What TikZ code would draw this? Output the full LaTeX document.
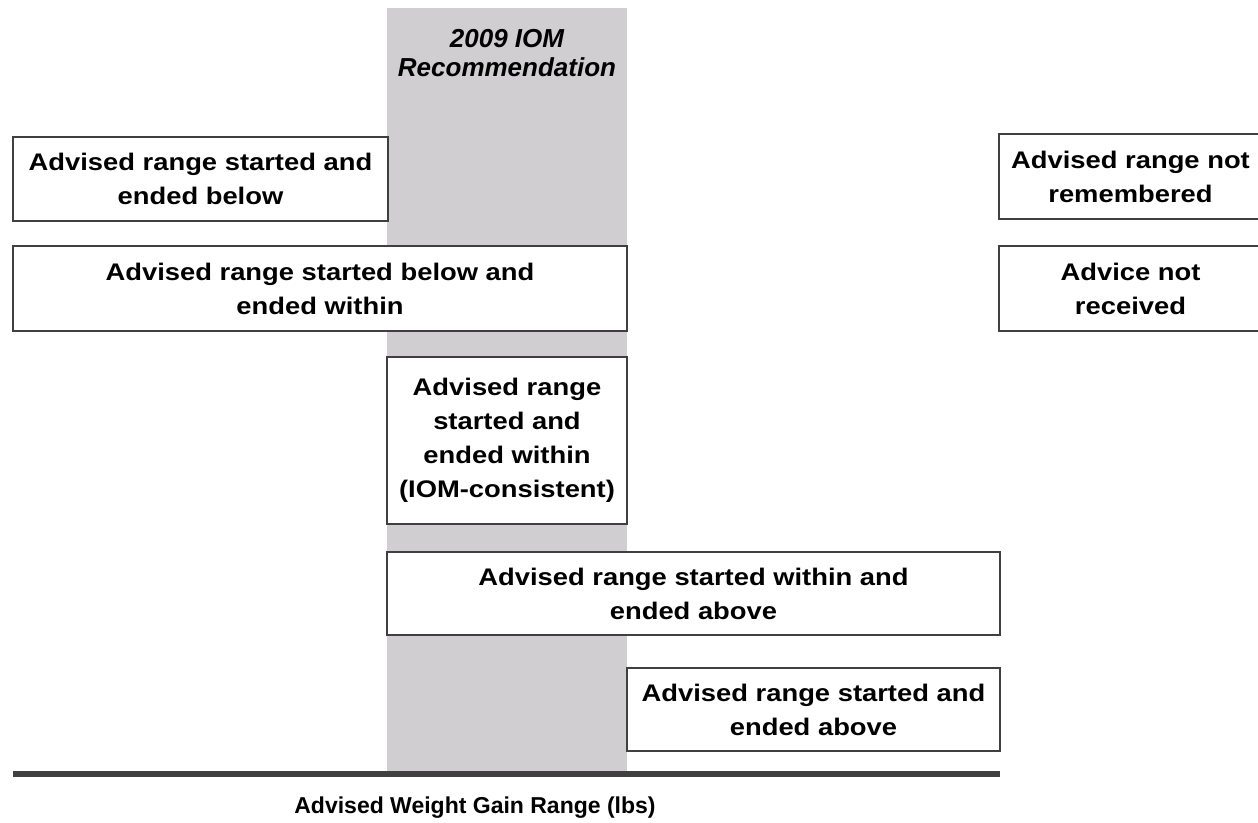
\documentclass[tikz,border=0pt]{standalone}
\usepackage{fontspec}
\setmainfont{Liberation Sans}
\newfontfamily\boxfont[FakeStretch=1.14]{Liberation Sans}
\definecolor{band}{RGB}{208,206,208}
\definecolor{edge}{RGB}{64,64,64}
\begin{document}
\begin{tikzpicture}[x=1pt,y=-1pt,
  rangebox/.style={draw=edge, line width=2pt, fill=white, align=center, inner sep=0pt,
    font=\boxfont\bfseries\fontsize{24}{34}\selectfont},
  titletext/.style={align=center, font=\bfseries\itshape\fontsize{26}{29}\selectfont},
  axislabel/.style={font=\bfseries\fontsize{23}{27}\selectfont}]
\clip (0,0) rectangle (1258,822);
\fill[white] (0,0) rectangle (1258,822);
% IOM recommendation band
\fill[band] (387,8) rectangle (627,773);
\node[titletext] (title) at (507,53) {2009 IOM\\Recommendation};
% boxes
\node[rangebox, minimum width=375, minimum height=84] (b1) at (200.5,179) {Advised range started and\\ended below};
\node[rangebox, minimum width=614, minimum height=85] (b2) at (320,288.5) {Advised range started below and\\ended within};
\node[rangebox, minimum width=240, minimum height=167] (b3) at (507,440.5) {Advised range\\started and\\ended within\\(IOM-consistent)};
\node[rangebox, minimum width=613, minimum height=83] (b4) at (693.5,593.5) {Advised range started within and\\ended above};
\node[rangebox, minimum width=373, minimum height=83] (b5) at (813.5,709.5) {Advised range started and\\ended above};
\node[rangebox, minimum width=263, minimum height=85] (b6) at (1130.5,176.5) {Advised range not\\remembered};
\node[rangebox, minimum width=263, minimum height=85] (b7) at (1130.5,288.5) {Advice not\\received};
% axis
\coordinate (axL) at (13,773.5);
\coordinate (axR) at (1000,773.5);
\draw[edge, line width=6pt] (axL) -- (axR);
\node[axislabel, anchor=base] (axlab) at (475,813) {Advised Weight Gain Range (lbs)};
\end{tikzpicture}
\end{document}
